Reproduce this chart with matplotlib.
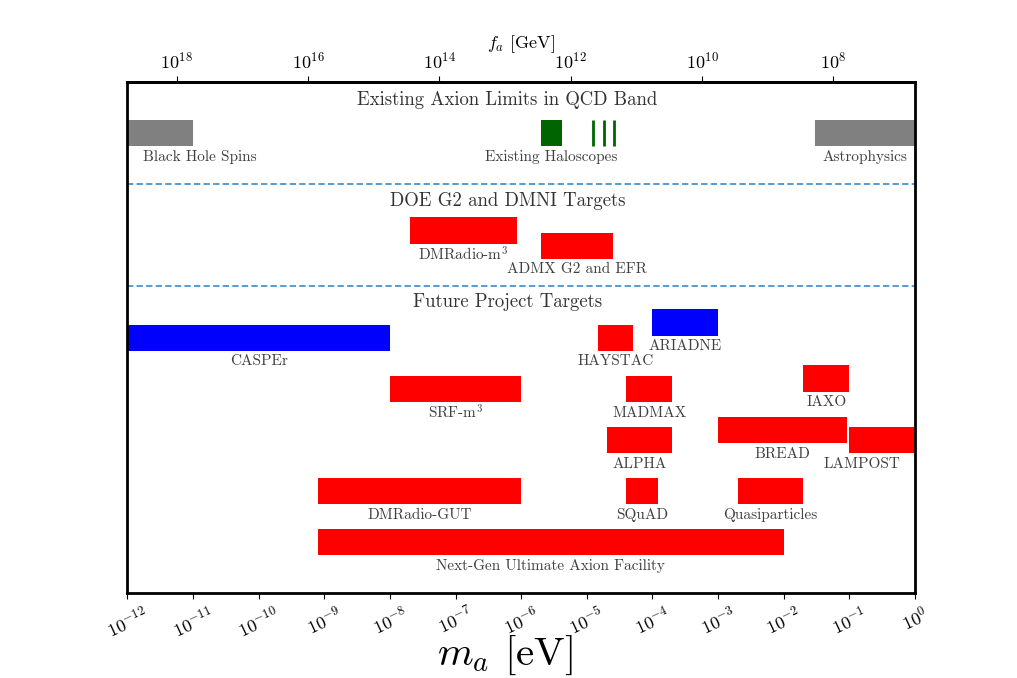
import matplotlib
matplotlib.use("Agg")
import matplotlib.pyplot as plt
import numpy as np

plt.rcParams['font.family'] = ['cmr10', 'DejaVu Serif']
plt.rcParams['mathtext.fontset'] = 'cm'
plt.rcParams['axes.formatter.use_mathtext'] = True
plt.rcParams['axes.unicode_minus'] = True

# ---------------- data ----------------
names = ["Black Hole Spins", "Astrophysics", "Existing Haloscopes",
         r"DMRadio-m$^3$", "ADMX G2 and EFR",
         "CASPEr", "ARIADNE", "HAYSTAC", r"SRF-m$^3$", "MADMAX", "IAXO",
         "BREAD", "LAMPOST", "ALPHA", "DMRadio-GUT", "SQuAD",
         "Quasiparticles", "Next-Gen Ultimate Axion Facility"]
m_low = [1e-12, 3.0e-2, 2.0e-6,
         2.0e-8, 2.0e-6,
         1e-12, 1e-4, 1.5e-5, 1e-8, 4e-5, 2e-2,
         1e-3, 1e-1, 2e-5, 7.9e-10, 4e-5,
         2e-3, 7.9e-10]
m_high = [1e-11, 1.0, 4.2e-6,
          8.7e-7, 2.55e-5,
          1e-8, 1e-3, 5.1e-5, 1e-6, 2e-4, 1e-1,
          9.3e-2, 1.0, 2e-4, 1e-6, 1.23e-4,
          2e-2, 1e-2]
row = [0.75, 0.75, 0.75,
       2.65, 2.95,
       4.75, 4.45, 4.75, 5.75, 5.75, 5.55,
       6.55, 6.75, 6.75, 7.75, 7.75,
       7.75, 8.75]
colors = ["gray", "gray", "darkgreen",
          "red", "red",
          "blue", "blue", "red", "red", "red", "red",
          "red", "red", "red", "red", "red",
          "red", "red"]
# label centre overrides (eV); None = geometric centre of bar
label_x = [1.27e-11, None, None,
           None, None,
           None, None, None, None, None, None,
           None, 0.155, None, None, None,
           None, None]

halo_lines = [1.26e-5, 1.84e-5, 2.58e-5]
halo_row = 0.75

sections = ["Existing Axion Limits in QCD Band", "DOE G2 and DMNI Targets",
            "Future Project Targets"]
section_y = [0.36, 2.33, 4.31]
section_x = 6.2e-7
dividers = [2.0, 4.0]

bottom_ticks = [10.0 ** k for k in range(-12, 1)]
top_ticks = [1e18, 1e16, 1e14, 1e12, 1e10, 1e8]

bar_h = 0.515

# ---------------- plot ----------------
fig = plt.figure(figsize=(10.17, 6.78), dpi=100)
ax = fig.add_axes([127.3 / 1017, 85 / 678, (915 - 127.3) / 1017, (593 - 81.7) / 678])
ax.set_xscale('log')
ax.set_xlim(1e-12, 1.0)
ax.set_ylim(10, 0)

for n, lo, hi, r, c, lx in zip(names, m_low, m_high, row, colors, label_x):
    ax.fill_between([lo, hi], r, r + bar_h, color=c, lw=0)
    xc = lx if lx is not None else np.sqrt(lo * hi)
    ax.text(xc, r + bar_h + 0.21, n, ha='center', va='center',
            fontsize=11, color='#404040')

ax.vlines(halo_lines, halo_row, halo_row + bar_h, color='darkgreen', lw=2)

for s, y in zip(sections, section_y):
    ax.text(section_x, y, s, ha='center', va='center',
            fontsize=13.5, color='#333333')

for d in dividers:
    ax.axhline(d, color='#4a93cc', lw=1.3, ls=(0, (3.5, 1.8)))

ax.set_yticks([])
for sp in ax.spines.values():
    sp.set_linewidth(2)
ax.set_xticks(bottom_ticks)
ax.tick_params(axis='x', which='major', labelsize=13, direction='out', length=4)
ax.tick_params(axis='x', which='minor', direction='out', length=2)
for lab in ax.get_xticklabels():
    lab.set_rotation(25)
ax.set_xlabel(r"$m_a$ [eV]", fontsize=29.5)
ax.xaxis.set_label_coords(0.4795, -0.079)

sec = ax.secondary_xaxis('top', functions=(lambda m: 5.7e6 / m, lambda f: 5.7e6 / f))
sec.set_xticks(top_ticks)
sec.xaxis.set_minor_locator(matplotlib.ticker.NullLocator())
sec.tick_params(axis='x', labelsize=13, direction='out', length=4)
sec.set_xlabel(r"$f_a$ [GeV]", fontsize=13, labelpad=2)
sec.spines['top'].set_linewidth(2)

fig.savefig("out.png", dpi=100)
